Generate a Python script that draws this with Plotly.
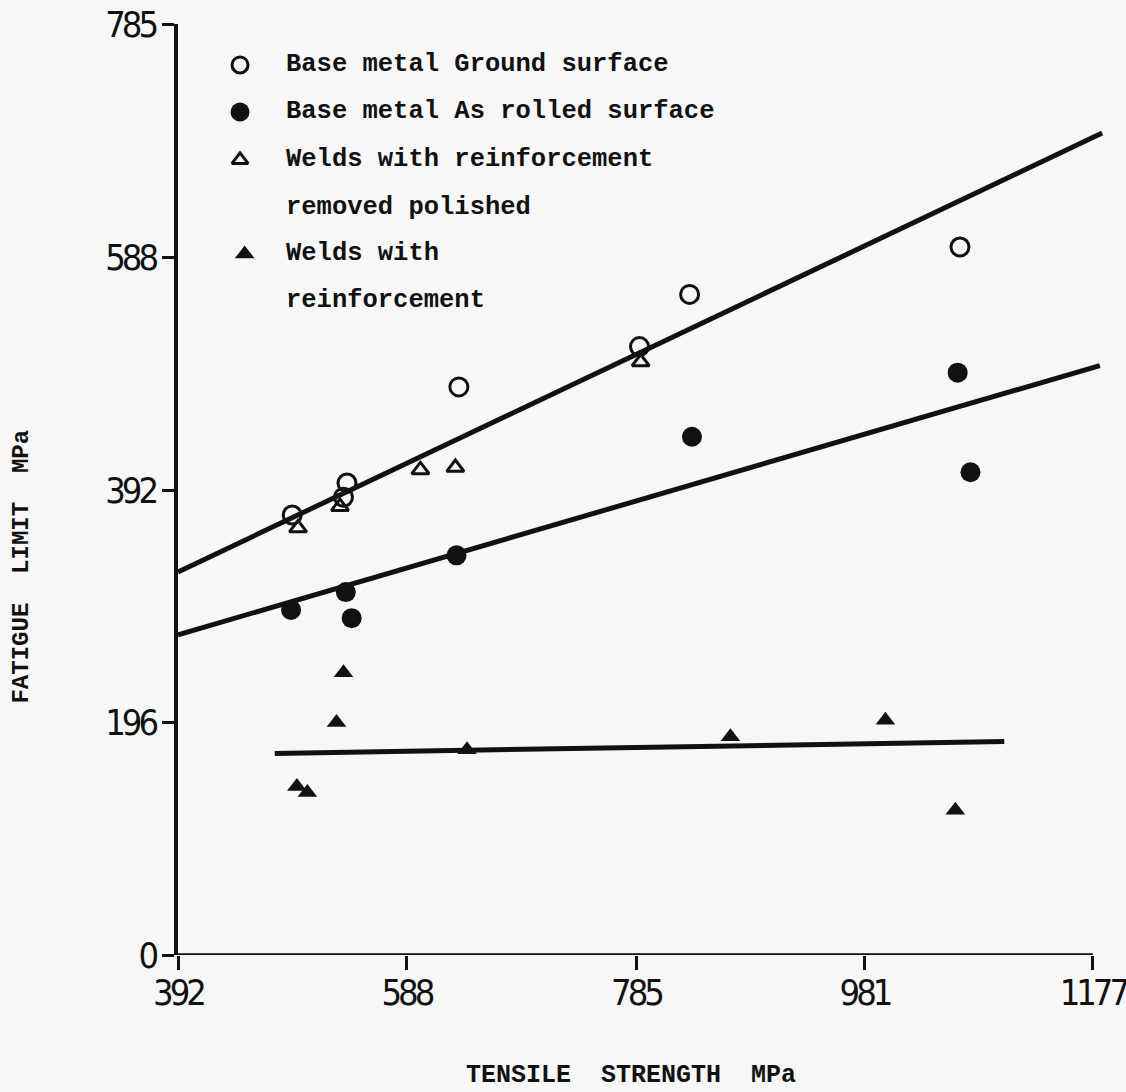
import plotly.graph_objects as go

# ---- data (MPa) ----
ground_x = [490, 534, 537, 633, 788, 831, 1063]
ground_y = [371, 386, 398, 479, 513, 557, 597]

rolled_x = [489, 536, 541, 631, 833, 1061, 1072]
rolled_y = [291, 306, 284, 337, 437, 491, 407]

polished_x = [495, 531, 600, 630, 789]
polished_y = [360, 378, 409, 411, 500]

welds_x = [534, 528, 494, 503, 640, 866, 999, 1059]
welds_y = [238, 196, 142, 137, 173, 184, 198, 122]

fit_upper_x = [392, 1185]
fit_upper_y = [323, 693]
fit_middle_x = [392, 1183]
fit_middle_y = [270, 497]
fit_lower_x = [475, 1101]
fit_lower_y = [170, 180]

x_ticks = [392, 588, 785, 981, 1177]
y_ticks = [0, 196, 392, 588, 785]

legend_labels = [
    "Base metal Ground surface",
    "Base metal As rolled surface",
    "Welds with reinforcement",
    "removed polished",
    "Welds with",
    "reinforcement",
]

INK = "#111111"
BG = "#f7f7f7"
MONO = "Liberation Mono, Courier New, monospace"
NARROW = "Liberation Sans Narrow, DejaVu Sans Condensed, Arial Narrow, sans-serif"


def tight(v):
    return f'<span style="letter-spacing:-4px">{v}</span>'


fig = go.Figure()

# fit lines
for fx, fy in [(fit_upper_x, fit_upper_y), (fit_middle_x, fit_middle_y), (fit_lower_x, fit_lower_y)]:
    fig.add_trace(go.Scatter(x=fx, y=fy, mode="lines",
                             line=dict(color=INK, width=5), showlegend=False,
                             hoverinfo="skip"))

# data markers
fig.add_trace(go.Scatter(x=ground_x, y=ground_y, mode="markers", name=legend_labels[0],
                         marker=dict(symbol="circle-open", size=18, color=INK,
                                     line=dict(width=3, color=INK)), showlegend=False))
fig.add_trace(go.Scatter(x=rolled_x, y=rolled_y, mode="markers", name=legend_labels[1],
                         marker=dict(symbol="circle", size=20, color=INK), showlegend=False))
fig.add_trace(go.Scatter(x=polished_x, y=polished_y, mode="markers", name=legend_labels[2],
                         marker=dict(symbol="triangle-up-open", size=15, color=INK,
                                     line=dict(width=3, color=INK)), showlegend=False))
fig.add_trace(go.Scatter(x=welds_x, y=welds_y, mode="markers", name=legend_labels[4],
                         marker=dict(symbol="triangle-up", size=17, color=INK), showlegend=False))

# x axis line (axis spans 392..1177 only)
fig.add_shape(type="line", xref="x", yref="y", x0=x_ticks[0], x1=x_ticks[-1], y0=0, y1=0,
              line=dict(color=INK, width=3.5))

# legend (custom, on an overlay unit axis)
leg_rows = [0.956, 0.9055, 0.854, 0.8034, 0.753, 0.7025]
leg_mx = 0.0667
leg_tx = 0.1135
fig.add_trace(go.Scatter(x=[leg_mx], y=[leg_rows[0]], xaxis="x2", yaxis="y2", mode="markers",
                         marker=dict(symbol="circle-open", size=16, color=INK,
                                     line=dict(width=3, color=INK)),
                         showlegend=False, hoverinfo="skip"))
fig.add_trace(go.Scatter(x=[leg_mx], y=[leg_rows[1]], xaxis="x2", yaxis="y2", mode="markers",
                         marker=dict(symbol="circle", size=19, color=INK),
                         showlegend=False, hoverinfo="skip"))
fig.add_trace(go.Scatter(x=[leg_mx], y=[leg_rows[2]], xaxis="x2", yaxis="y2", mode="markers",
                         marker=dict(symbol="triangle-up-open", size=14, color=INK,
                                     line=dict(width=3, color=INK)),
                         showlegend=False, hoverinfo="skip"))
fig.add_trace(go.Scatter(x=[leg_mx + 0.005], y=[leg_rows[4]], xaxis="x2", yaxis="y2", mode="markers",
                         marker=dict(symbol="triangle-up", size=17, color=INK),
                         showlegend=False, hoverinfo="skip"))
for label, yy in zip(legend_labels, leg_rows):
    fig.add_annotation(xref="paper", yref="paper", x=leg_tx, y=yy, text=f"<b>{label}</b>",
                       showarrow=False, xanchor="left", yanchor="middle",
                       font=dict(family=MONO, size=25.5, color=INK))

# axis titles
fig.add_annotation(xref="paper", yref="paper", x=0.487, y=-0.129,
                   text="<b>TENSILE  STRENGTH  MPa</b>", showarrow=False,
                   xanchor="center", yanchor="middle",
                   font=dict(family=MONO, size=25, color=INK))
fig.add_annotation(xref="paper", yref="paper", x=-0.168, y=0.417,
                   text="<b>FATIGUE  LIMIT  MPa</b>", showarrow=False, textangle=-90,
                   xanchor="center", yanchor="middle",
                   font=dict(family=MONO, size=24, color=INK))

fig.update_layout(
    width=1126, height=1092,
    margin=dict(l=178, r=18, t=24, b=137),
    paper_bgcolor=BG, plot_bgcolor=BG,
    showlegend=False,
    xaxis=dict(range=[392, 1190], tickvals=x_ticks, ticktext=[tight(v) for v in x_ticks],
               ticks="outside", ticklen=14, tickwidth=3, tickcolor=INK,
               ticklabelstandoff=-8,
               showline=False, showgrid=False, zeroline=False, automargin=False,
               ticklabeloverflow="allow",
               tickfont=dict(family=NARROW, size=36, color=INK)),
    yaxis=dict(range=[0, 785], tickvals=y_ticks, ticktext=[tight(v) for v in y_ticks],
               ticks="outside", ticklen=12, tickwidth=3, tickcolor=INK,
               showline=True, linewidth=3.5, linecolor=INK,
               showgrid=False, zeroline=False, automargin=False,
               ticklabeloverflow="allow",
               tickfont=dict(family=NARROW, size=36, color=INK)),
    xaxis2=dict(range=[0, 1], overlaying="x", visible=False, fixedrange=True),
    yaxis2=dict(range=[0, 1], overlaying="y", visible=False, fixedrange=True),
)

fig.write_html(
    "out.html",
    config={"displayModeBar": False},
    post_script="document.body.style.margin='0';document.body.style.overflow='hidden';"
                "document.documentElement.style.overflow='hidden';",
)
